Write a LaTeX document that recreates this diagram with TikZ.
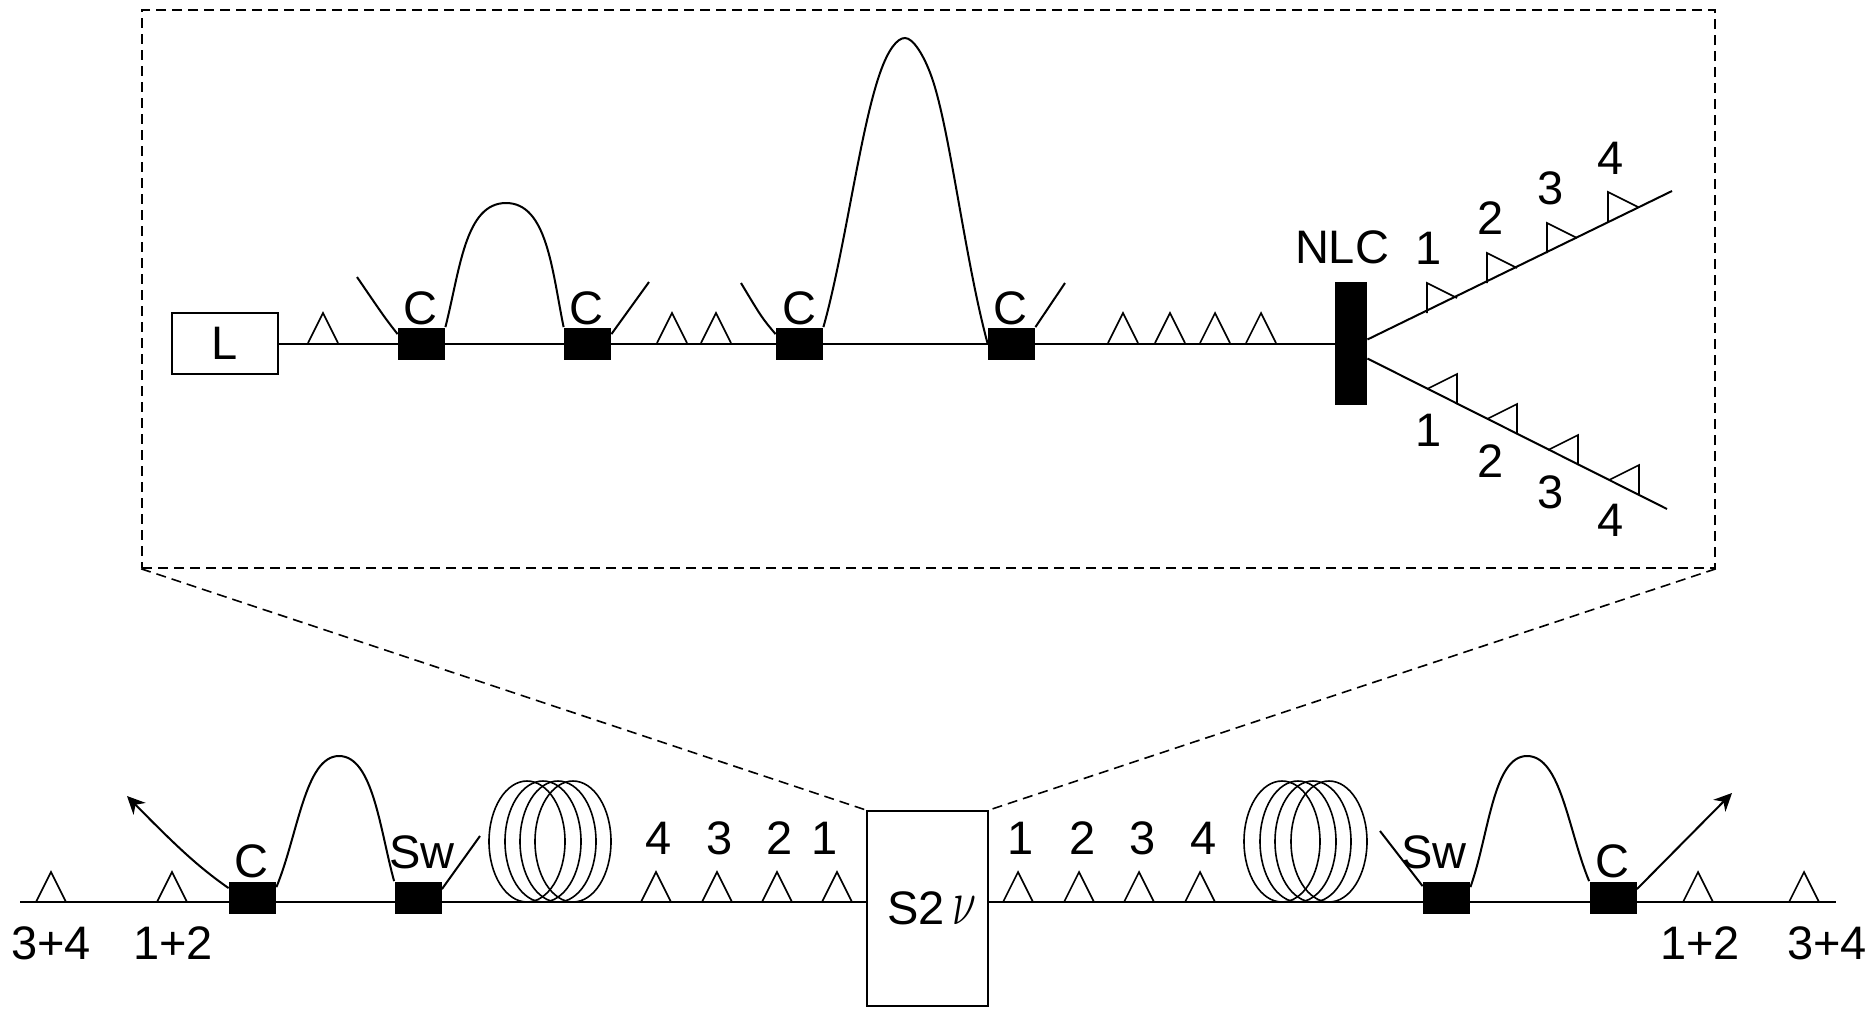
\documentclass[tikz,border=0pt]{standalone}
\usepackage{amsmath,amssymb}
\usepackage{fontspec}
\setmainfont{Liberation Sans}
\usepackage{tikz}
\usepackage{xcolor}
\usetikzlibrary{arrows.meta}

\begin{document}
\begin{tikzpicture}[x=0.5pt, y=-0.5pt, font=\fontsize{23.5}{26}\selectfont]
\tikzstyle{boxnode} = [rectangle, draw=black, fill=white, line width=1pt, inner sep=0pt]
\tikzstyle{block} = [rectangle, fill=black, minimum width=23.5pt, minimum height=16pt, inner sep=0pt]
\tikzstyle{label} = [inner sep=0pt]
\tikzstyle{fibre} = [line width=1pt]
\tikzstyle{amp} = [line width=0.8pt]
\tikzstyle{zoomline} = [line width=0.8pt, dash pattern=on 5pt off 3pt]
\tikzstyle{arrow} = [line width=1pt, -{Stealth[length=9pt, width=8.5pt]}]

\useasboundingbox (0,0) rectangle (1874,1008);

% top inset
\node (inset) [rectangle, draw=black, zoomline, minimum width=786.5pt, minimum height=279pt, inner sep=0pt] at (928.5,289) {};

\node (laser) [boxnode, minimum width=53pt, minimum height=30.5pt] at (224.5,343.5) {L};
\node (c1) [block] at (421.5,343.5) {};
\node (c2) [block] at (587.5,343.5) {};
\node (c3) [block] at (799.5,343.5) {};
\node (c4) [block] at (1011.5,343.5) {};
\node (nlc) [block, minimum width=16pt, minimum height=61.5pt] at (1351,343.5) {};
\coordinate (up) at (1672,191);
\coordinate (down) at (1667,509);
\coordinate (t1) at (357,277);
\coordinate (t2) at (649,282);
\coordinate (t3) at (741,283);
\coordinate (t4) at (1065,283);
\coordinate (p1) at (506,203);
\coordinate (p2) at (905,38);

\draw [fibre] (laser) -- (c1);
\draw [fibre] (c1) -- (c2);
\draw [fibre] (c2) -- (c3);
\draw [fibre] (c3) -- (c4);
\draw [fibre] (c4) -- (nlc);
\draw [fibre] (nlc.east) ++(0,-4) -- (up);
\draw [fibre] (nlc.east) ++(0,15) -- (down);
\draw [fibre] (c1.north west) ++(0,7) .. controls (385,318) .. (t1);
\draw [fibre] (c2.north east) ++(0,7) -- (t2);
\draw [fibre] (c3.north west) ++(0,7) .. controls (762,318) .. (t3);
\draw [fibre] (c4.north east) -- (t4);
\draw [fibre] (c1.north east) .. controls (460,270) and (465,203) .. (p1) .. controls (547,203) and (552,270) .. (c2.north west);
\draw [fibre] (c3.north east) .. controls (845,250) and (860,130) .. (880,73) .. controls (888,50) and (897,38) .. (p2) .. controls (913,38) and (924,55) .. (932,78) .. controls (950,130) and (965,260) .. (c4.west);

\foreach \x in {323,672,716,1123,1170,1215,1261}
  \draw [amp] (\x-15,343) -- (\x,313) -- (\x+15,343);
\foreach \x/\y in {1427/283,1487/253,1547/223,1608/192}
  \draw [amp] (\x,\y+30) -- (\x,\y) -- (\x+30,\y+15);
\foreach \x/\y in {1427/389,1487/419,1548/450,1609/480}
  \draw [amp] (\x,\y) -- (\x+30,\y-15) -- (\x+30,\y+15);

\node (lc1) [label] at (420,308) {C};
\node (lc2) [label] at (586,308) {C};
\node (lc3) [label] at (799,308) {C};
\node (lc4) [label] at (1010,308) {C};
\node (lnlc) [label] at (1342,247) {NLC};
\node (u1) [label] at (1429,248) {1};
\node (u2) [label] at (1491,218) {2};
\node (u3) [label] at (1551,188) {3};
\node (u4) [label] at (1611,158) {4};
\node (d1) [label] at (1429,430) {1};
\node (d2) [label] at (1491,461) {2};
\node (d3) [label] at (1551,492) {3};
\node (d4) [label] at (1611,520) {4};

% bottom line
\node (s2v) [boxnode, minimum width=60.5pt, minimum height=97.5pt] at (927.5,908.5) {\hspace*{4.5pt}S2\,\scalebox{0.88}[1.3]{$\nu$}};
\node (cl) [block] at (252.5,897.5) {};
\node (swl) [block] at (418,897.5) {};
\node (swr) [block] at (1446.5,897.5) {};
\node (cr) [block] at (1613,897.5) {};
\coordinate (west) at (20,902);
\coordinate (east) at (1836,902);
\coordinate (tipl) at (127,796);
\coordinate (tipr) at (1732,793);
\coordinate (t5) at (480,836);
\coordinate (t6) at (1380,831);
\coordinate (p3) at (339,756);
\coordinate (p4) at (1527,756);

\draw [fibre] (west) -- (s2v.west |- west);
\draw [fibre] (s2v.east |- east) -- (east);
\draw [arrow] (cl.north west) ++(0,7) .. controls (200,868) and (180,850) .. (tipl);
\draw [arrow] (cr.north east) ++(0,8) -- (tipr);
\draw [fibre] (swl.north east) ++(0,8) -- (t5);
\draw [fibre] (swr.north west) ++(0,5) -- (t6);
\draw [fibre] (cl.north east) ++(0,6) .. controls (298,835) and (305,756) .. (p3) .. controls (373,756) and (380,830) .. (swl.north west);
\draw [fibre] (swr.north east) ++(0,6) .. controls (1489,835) and (1493,756) .. (p4) .. controls (1561,756) and (1568,830) .. (cr.north west);

\foreach \x in {527,543,558,573,1282,1298,1313,1329}
  \draw [amp] (\x,841.5) ellipse [x radius=38, y radius=60.5];
\foreach \x in {51,172,656,717,777,837,1018,1079,1139,1200,1698,1804}
  \draw [amp] (\x-15,902) -- (\x,872) -- (\x+15,902);

\draw [zoomline] (inset.south west) -- (s2v.north west);
\draw [zoomline] (inset.south east) -- (s2v.north east);

\node (lcl) [label] at (251,861) {C};
\node (lswl) [label] at (422,852) {Sw};
\node (lswr) [label] at (1434,852) {Sw};
\node (lcr) [label] at (1612,861) {C};
\node (a4) [label] at (659,838) {4};
\node (a3) [label] at (720,838) {3};
\node (a2) [label] at (780,838) {2};
\node (a1) [label] at (825,838) {1};
\node (b1) [label] at (1021,838) {1};
\node (b2) [label] at (1083,838) {2};
\node (b3) [label] at (1143,838) {3};
\node (b4) [label] at (1204,838) {4};
\node (w34) [label] at (51,943) {3+4};
\node (w12) [label] at (173,943) {1+2};
\node (e12) [label] at (1700,943) {1+2};
\node (e34) [label] at (1827,943) {3+4};
\end{tikzpicture}
\end{document}
